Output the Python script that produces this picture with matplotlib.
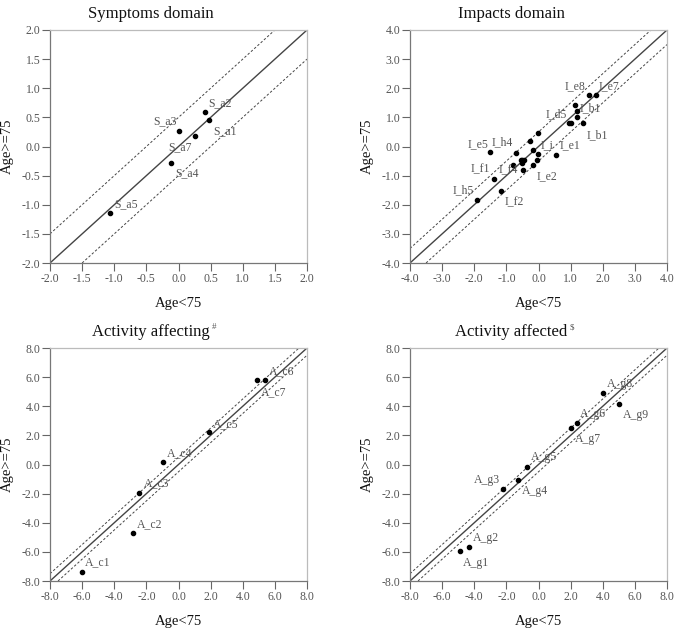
import numpy as np
import matplotlib
matplotlib.use("Agg")
import matplotlib.pyplot as plt

plt.rcParams['font.family'] = ['Liberation Serif', 'DejaVu Serif']
plt.rcParams['mathtext.fontset'] = 'custom'
plt.rcParams['mathtext.rm'] = 'Liberation Serif'

# ---- data ----
sym_labels = ["S_a1", "S_a2", "S_a3", "S_a4", "S_a5", "S_a7"]
sym_x = [0.48, 0.42, 0.01, -0.12, -1.07, 0.25]
sym_y = [0.46, 0.59, 0.26, -0.29, -1.14, 0.18]

imp_labels = ["I_h5", "I_e5", "I_f1", "I_f2", "", "I_h4", "", "", "", "",
              "I_f4", "", "I_i", "", "", "", "I_e2", "I_e1", "I_d5", "",
              "", "I_b1", "", "I_b1", "I_e8", "I_e7"]
imp_x = [-1.91, -1.50, -1.40, -1.16, -0.78, -0.69, -0.56, -0.50, -0.44, -0.52,
         -0.48, -0.28, -0.18, -0.03, -0.03, -0.04, -0.18, 0.54, 0.96, 1.02,
         1.19, 1.37, 1.13, 1.21, 1.57, 1.78]
imp_y = [-1.82, -0.19, -1.13, -1.52, -0.63, -0.21, -0.48, -0.48, -0.48, -0.56,
         -0.82, 0.18, -0.13, 0.46, -0.27, -0.45, -0.64, -0.28, 0.81, 0.81,
         1.00, 0.79, 1.41, 1.22, 1.77, 1.77]

actc_labels = ["A_c1", "A_c2", "A_c3", "A_c4", "A_c5", "A_c6", "A_c7"]
actc_x = [-6.03, -2.83, -2.43, -0.96, 1.87, 5.36, 4.86]
actc_y = [-7.36, -4.72, -1.93, 0.16, 2.20, 5.78, 5.78]

actg_labels = ["A_g1", "A_g2", "A_g3", "A_g4", "A_g5", "A_g6", "A_g7", "A_g8", "A_g9"]
actg_x = [-4.89, -4.31, -2.20, -1.26, -0.71, 2.40, 2.05, 4.00, 5.02]
actg_y = [-5.94, -5.64, -1.70, -1.08, -0.14, 2.82, 2.50, 4.91, 4.17]

# label placement: (dx px, dy px, ha)
sym_off = [(4, -11, 'left'), (3, 9, 'left'), (-2, 10, 'right'), (4, -10, 'left'),
           (4, 9, 'left'), (-3, -11, 'right')]
imp_off = {"I_h5": (-3, 9, 'right'), "I_e5": (-2, 8, 'right'), "I_f1": (-4, 10, 'right'),
           "I_f2": (3, -11, 'left'), "I_h4": (-3, 10, 'right'), "I_f4": (-5, 0, 'right'),
           "I_i": (8, 5, 'left'), "I_e2": (4, -11, 'left'), "I_e1": (4, 9, 'left'),
           "I_d5": (-2, 9, 'right'), "I_e8": (-3, 9, 'right'), "I_e7": (3, 9, 'left')}
imp_b1_off = [(4, -12, 'left'), (2, 3, 'left')]
actc_off = [(3, 9, 'left'), (4, 9, 'left'), (4, 9, 'left'), (4, 9, 'left'),
            (4, 8, 'left'), (4, 9, 'left'), (4, -12, 'left')]
actg_off = [(3, -12, 'left'), (4, 9, 'left'), (-3, 9, 'right'), (4, -11, 'left'),
            (4, 10, 'left'), (3, 9, 'left'), (3, -11, 'left'), (4, 9, 'left'),
            (4, -11, 'left')]

W, H = 674, 636
fig = plt.figure(figsize=(W / 100, H / 100), dpi=100)
fig.patch.set_facecolor('white')

def make_ax(left, top, lim, step, title, sup=None):
    ax = fig.add_axes([left / W, (H - top - 233) / H, 257 / W, 233 / H])
    ax.plot([-lim, lim], [-lim, lim], color='#444444', lw=1.0)
    ax.plot([-lim, lim - 0.5], [-lim + 0.5, lim], color='#444444', lw=0.7,
            ls=(0, (2.5, 2)))
    ax.plot([-lim + 0.5, lim], [-lim, lim - 0.5], color='#444444', lw=0.7,
            ls=(0, (2.5, 2)))
    ax.set_xlim(-lim, lim)
    ax.set_ylim(-lim, lim)
    ticks = np.arange(-lim, lim + step / 2, step)
    ax.set_xticks(ticks)
    ax.set_yticks(ticks)
    ax.set_xticklabels(["%.1f" % t for t in ticks])
    ax.set_yticklabels(["%.1f" % t for t in ticks])
    ax.tick_params(direction='out', length=6, width=0.8, color='#666666',
                   labelcolor='#555555', labelsize=8.5, pad=1)
    for s in ['left', 'bottom']:
        ax.spines[s].set_color('#777777')
        ax.spines[s].set_linewidth(0.9)
    for s in ['top', 'right']:
        ax.spines[s].set_color('#bbbbbb')
        ax.spines[s].set_linewidth(0.9)
    ax.set_xlabel("Age<75", fontsize=10.5, color='#111111')
    ax.set_ylabel("Age>=75", fontsize=10.5, color='#111111')
    ax.xaxis.set_label_coords(0.5, -34 / 233)
    ax.yaxis.set_label_coords(-36 / 257, 0.5)
    t = ax.text(0.393, 1.05, title, transform=ax.transAxes, ha='center',
                va='baseline', fontsize=12, color='#111111')
    if sup:
        fig.canvas.draw()
        bb = t.get_window_extent()
        x1, _ = ax.transAxes.inverted().transform((bb.x1 + 2, bb.y1))
        ax.text(x1, 1.05 + 7 / 233, sup, transform=ax.transAxes, ha='left',
                va='baseline', fontsize=6.5, color='#555555')
    return ax

def put_labels(ax, xs, ys, labels, offs):
    ax.plot(xs, ys, 'o', color='black', ms=3, mec='black')
    for x, y, lab, (dx, dy, ha) in zip(xs, ys, labels, offs):
        if lab:
            ax.annotate(lab, (x, y), xytext=(dx, dy), textcoords='offset pixels',
                        ha=ha, va='center', fontsize=8.5, color='#555555')

ax1 = make_ax(50, 30, 2.0, 0.5, "Symptoms domain")
put_labels(ax1, sym_x, sym_y, sym_labels, sym_off)

ax2 = make_ax(410, 30, 4.0, 1.0, "Impacts domain")
b1 = iter(imp_b1_off)
offs2 = []
for lab in imp_labels:
    if lab == "I_b1":
        offs2.append(next(b1))
    else:
        offs2.append(imp_off.get(lab, (0, 0, 'left')))
put_labels(ax2, imp_x, imp_y, imp_labels, offs2)

ax3 = make_ax(50, 348, 8.0, 2.0, "Activity affecting", sup="#")
put_labels(ax3, actc_x, actc_y, actc_labels, actc_off)

ax4 = make_ax(410, 348, 8.0, 2.0, "Activity affected", sup="$")
put_labels(ax4, actg_x, actg_y, actg_labels, actg_off)

fig.savefig("out.png", dpi=100, facecolor='white')
